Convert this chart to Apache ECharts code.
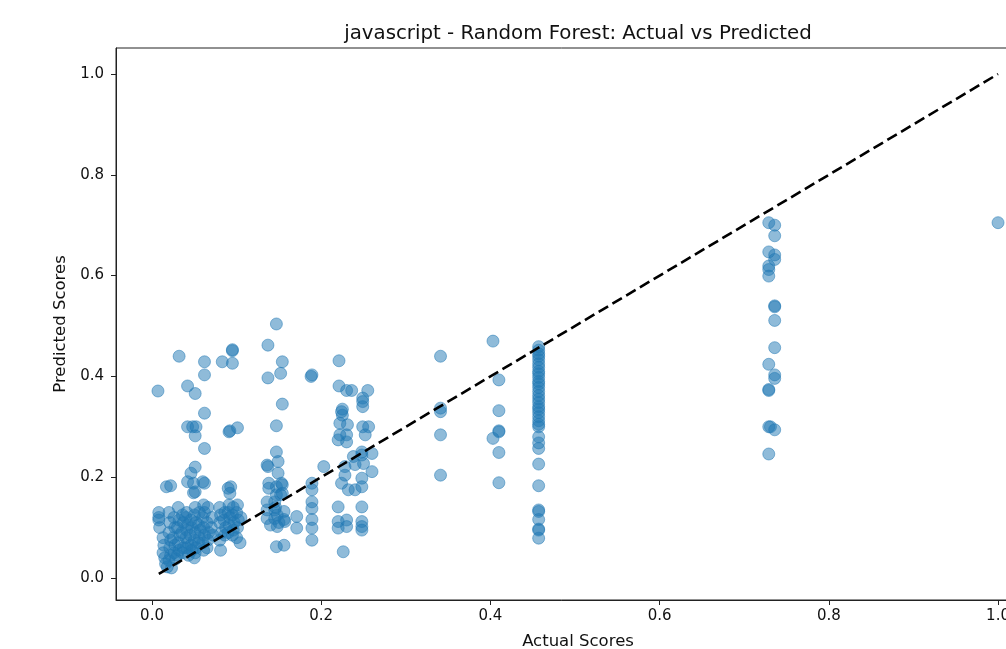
<!DOCTYPE html>
<html>
<head>
<meta charset="utf-8">
<title>javascript - Random Forest: Actual vs Predicted</title>
<script src="https://cdn.jsdelivr.net/npm/echarts@6/dist/echarts.min.js"></script>
<style>
	html, body { margin: 0; padding: 0; background: #fff; }
	#chart { width: 1006px; height: 649px; }
</style>
</head>
<body>
<div id="chart"></div>
<script>
// [actual, predicted] pairs, grouped by the bands of actual score seen in the plot
var lowCluster = [
	[0.008, 0.13], [0.008, 0.12], [0.008, 0.115], [0.009, 0.10],
	[0.013, 0.08], [0.014, 0.065], [0.013, 0.05], [0.015, 0.04], [0.016, 0.028], [0.018, 0.022],
	[0.02, 0.13], [0.021, 0.11], [0.02, 0.09], [0.022, 0.075], [0.021, 0.06], [0.022, 0.045], [0.02, 0.035], [0.023, 0.02],
	[0.026, 0.12], [0.027, 0.10], [0.025, 0.08], [0.027, 0.065], [0.026, 0.05], [0.028, 0.038],
	[0.031, 0.14], [0.032, 0.115], [0.03, 0.10], [0.033, 0.085], [0.031, 0.07], [0.032, 0.055], [0.03, 0.045],
	[0.036, 0.125], [0.037, 0.11], [0.035, 0.09], [0.037, 0.06], [0.036, 0.05],
	[0.041, 0.13], [0.04, 0.12], [0.042, 0.105], [0.041, 0.095], [0.04, 0.08], [0.042, 0.07], [0.041, 0.06], [0.043, 0.045],
	[0.046, 0.115], [0.047, 0.10], [0.045, 0.085], [0.046, 0.065], [0.047, 0.055],
	[0.051, 0.14], [0.05, 0.125], [0.052, 0.11], [0.051, 0.09], [0.05, 0.075], [0.052, 0.06], [0.051, 0.05], [0.05, 0.04],
	[0.056, 0.13], [0.055, 0.105], [0.057, 0.095], [0.056, 0.08], [0.055, 0.07],
	[0.061, 0.145], [0.062, 0.13], [0.06, 0.12], [0.061, 0.10], [0.062, 0.085], [0.06, 0.07], [0.061, 0.055],
	[0.066, 0.14], [0.065, 0.11], [0.067, 0.09], [0.066, 0.075], [0.065, 0.06],
	[0.071, 0.12], [0.07, 0.10], [0.072, 0.085],
	[0.08, 0.14], [0.081, 0.125], [0.08, 0.11], [0.082, 0.09], [0.08, 0.075], [0.081, 0.055],
	[0.086, 0.13], [0.085, 0.115], [0.087, 0.10], [0.086, 0.085],
	[0.091, 0.145], [0.09, 0.13], [0.092, 0.12], [0.091, 0.105], [0.09, 0.09],
	[0.096, 0.14], [0.095, 0.125], [0.097, 0.11], [0.096, 0.095], [0.095, 0.085],
	[0.101, 0.145], [0.1, 0.13], [0.102, 0.115], [0.101, 0.10], [0.1, 0.08],
	[0.105, 0.12], [0.104, 0.07]
];
var upperLeft = [
	[0.007, 0.371], [0.032, 0.44], [0.042, 0.381], [0.051, 0.366], [0.062, 0.429], [0.062, 0.403],
	[0.083, 0.429], [0.095, 0.451], [0.095, 0.453], [0.095, 0.426], [0.062, 0.327],
	[0.042, 0.30], [0.048, 0.30], [0.052, 0.30], [0.051, 0.282], [0.091, 0.29], [0.092, 0.292], [0.101, 0.298],
	[0.062, 0.257], [0.051, 0.22], [0.046, 0.208], [0.042, 0.191], [0.017, 0.181], [0.022, 0.183],
	[0.062, 0.188], [0.051, 0.171], [0.093, 0.181], [0.092, 0.168], [0.049, 0.188], [0.06, 0.191],
	[0.049, 0.169], [0.09, 0.178]
];
var band015 = [
	[0.137, 0.462], [0.147, 0.504], [0.154, 0.429], [0.137, 0.397], [0.152, 0.406], [0.154, 0.345],
	[0.147, 0.302], [0.147, 0.25], [0.149, 0.231], [0.149, 0.208], [0.136, 0.224], [0.137, 0.221],
	[0.138, 0.188], [0.138, 0.178], [0.147, 0.181], [0.153, 0.188], [0.136, 0.151], [0.145, 0.151],
	[0.147, 0.165], [0.136, 0.135], [0.145, 0.135], [0.156, 0.132], [0.136, 0.118], [0.145, 0.118],
	[0.156, 0.116], [0.14, 0.105], [0.148, 0.102], [0.157, 0.112], [0.147, 0.062], [0.156, 0.065],
	[0.148, 0.125], [0.15, 0.11], [0.146, 0.14], [0.152, 0.165], [0.154, 0.185], [0.154, 0.168]
];
var band019 = [
	[0.171, 0.122], [0.171, 0.099], [0.189, 0.403], [0.188, 0.40], [0.189, 0.188], [0.189, 0.175],
	[0.189, 0.151], [0.189, 0.138], [0.189, 0.116], [0.189, 0.099], [0.189, 0.075], [0.203, 0.221]
];
var band024 = [
	[0.221, 0.431], [0.221, 0.381], [0.23, 0.372], [0.236, 0.372], [0.255, 0.372], [0.249, 0.357],
	[0.249, 0.34], [0.249, 0.35], [0.225, 0.335], [0.225, 0.323], [0.224, 0.33], [0.222, 0.307],
	[0.231, 0.304], [0.23, 0.284], [0.249, 0.30], [0.256, 0.30], [0.252, 0.284], [0.222, 0.284],
	[0.22, 0.274], [0.23, 0.27], [0.238, 0.241], [0.248, 0.244], [0.248, 0.25], [0.26, 0.247],
	[0.228, 0.221], [0.228, 0.204], [0.24, 0.225], [0.25, 0.227], [0.26, 0.211], [0.224, 0.188],
	[0.232, 0.175], [0.24, 0.175], [0.248, 0.198], [0.248, 0.181], [0.22, 0.141], [0.23, 0.115],
	[0.22, 0.112], [0.23, 0.102], [0.22, 0.099], [0.248, 0.141], [0.248, 0.112], [0.248, 0.102],
	[0.248, 0.095], [0.226, 0.052]
];
var band034 = [[0.341, 0.44], [0.341, 0.337], [0.341, 0.33], [0.341, 0.284], [0.341, 0.204]];
var band041 = [
	[0.403, 0.47], [0.41, 0.393], [0.41, 0.332], [0.41, 0.29], [0.41, 0.292], [0.403, 0.277],
	[0.41, 0.249], [0.41, 0.189]
];
var band046 = [
	[0.457, 0.459], [0.457, 0.452], [0.457, 0.445], [0.457, 0.44], [0.457, 0.433], [0.457, 0.425],
	[0.457, 0.418], [0.457, 0.41], [0.457, 0.405], [0.457, 0.398], [0.457, 0.39], [0.457, 0.385],
	[0.457, 0.378], [0.457, 0.37], [0.457, 0.362], [0.457, 0.355], [0.457, 0.348], [0.457, 0.34],
	[0.457, 0.335], [0.457, 0.328], [0.457, 0.32], [0.457, 0.312], [0.457, 0.305], [0.457, 0.30],
	[0.457, 0.28], [0.457, 0.268], [0.457, 0.257], [0.457, 0.226], [0.457, 0.183], [0.457, 0.135],
	[0.457, 0.132], [0.457, 0.116], [0.457, 0.095], [0.457, 0.097], [0.457, 0.079]
];
var band073 = [
	[0.729, 0.705], [0.736, 0.70], [0.736, 0.679], [0.729, 0.647], [0.736, 0.641], [0.736, 0.632],
	[0.729, 0.619], [0.729, 0.612], [0.729, 0.599], [0.736, 0.54], [0.736, 0.538], [0.736, 0.511],
	[0.736, 0.457], [0.729, 0.424], [0.736, 0.403], [0.736, 0.396], [0.729, 0.372], [0.729, 0.374],
	[0.729, 0.30], [0.731, 0.30], [0.736, 0.294], [0.729, 0.246]
];
var topScore = [[1.0, 0.705]];

var perfectLine = [[0.008, 0.008], [1.0, 1.0]];
var tickValues = [0, 0.2, 0.4, 0.6, 0.8, 1.0];

var points = [].concat(lowCluster, upperLeft, band015, band019, band024, band034, band041, band046, band073, topScore);

var font = 'DejaVu Sans';
var myChart = echarts.init(document.getElementById('chart'));
var option = {
	animation: false,
	backgroundColor: '#fff',
	title: {
		text: 'javascript - Random Forest: Actual vs Predicted',
		left: 573,
		top: 19,
		textAlign: 'center',
		textStyle: { fontFamily: font, fontSize: 19.8, fontWeight: 'normal', color: '#111' }
	},
	grid: {
		left: 116,
		top: 48,
		width: 924,
		height: 552,
		show: true,
		borderColor: '#222',
		borderWidth: 1,
		outerBoundsMode: 'none'
	},
	xAxis: {
		type: 'value',
		min: -0.0426,
		max: 1.0496,
		name: 'Actual Scores',
		nameLocation: 'middle',
		nameGap: 33,
		nameTextStyle: { fontFamily: font, fontSize: 16.5, color: '#111' },
		splitLine: { show: false },
		axisLine: { onZero: false, lineStyle: { color: '#222', width: 1 } },
		axisTick: { customValues: tickValues, length: 5, lineStyle: { color: '#222' } },
		axisLabel: {
			customValues: tickValues,
			margin: 9,
			fontFamily: font, fontSize: 15, color: '#111',
			formatter: function(v) { return v.toFixed(1); }
		}
	},
	yAxis: {
		type: 'value',
		min: -0.0437,
		max: 1.0516,
		name: 'Predicted Scores',
		nameLocation: 'middle',
		nameGap: 47,
		nameTextStyle: { fontFamily: font, fontSize: 16.5, color: '#111' },
		splitLine: { show: false },
		axisLine: { onZero: false, lineStyle: { color: '#222', width: 1 } },
		axisTick: { customValues: tickValues, length: 5, lineStyle: { color: '#222' } },
		axisLabel: {
			customValues: tickValues,
			margin: 12,
			fontFamily: font, fontSize: 15, color: '#111',
			formatter: function(v) { return v.toFixed(1); }
		}
	},
	series: [{
		type: 'scatter',
		data: points,
		symbolSize: 12,
		itemStyle: {
			color: 'rgba(31,119,180,0.5)',
			borderColor: 'rgba(31,119,180,0.5)',
			borderWidth: 1,
			opacity: 1
		},
		emphasis: { disabled: true }
	}, {
		type: 'line',
		data: perfectLine,
		symbol: 'none',
		z: 3,
		lineStyle: { color: '#000', width: 2.6, type: [11, 5] }
	}]
};

myChart.setOption(option);
</script>
</body>
</html>
